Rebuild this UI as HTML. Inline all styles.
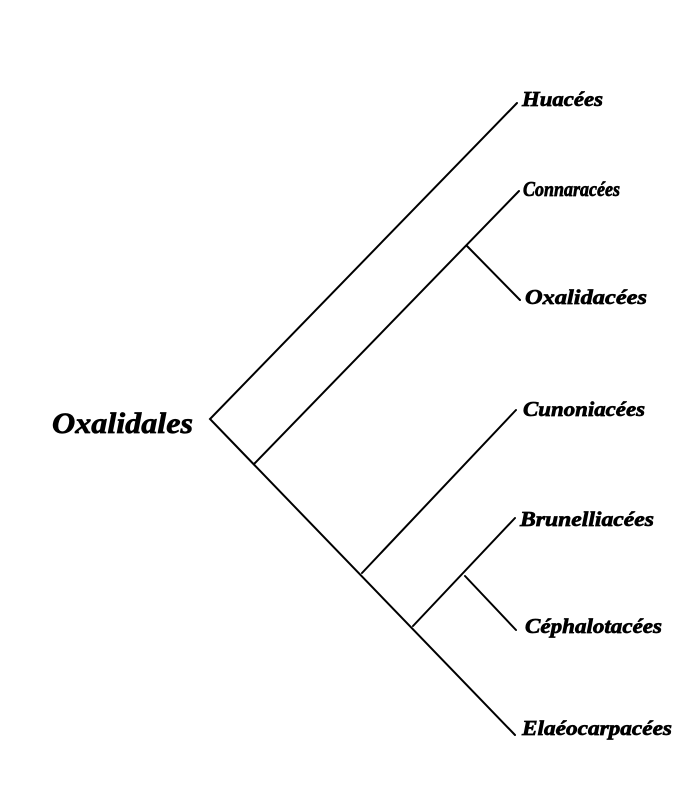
<!DOCTYPE html>
<html><head><meta charset="utf-8"><style>html,body{margin:0;padding:0;background:#fff}svg{display:block}</style></head>
<body>
<svg width="700" height="800" viewBox="0 0 700 800" xmlns="http://www.w3.org/2000/svg">
<g stroke="#000" stroke-width="2" fill="none" stroke-linecap="round">
<polyline points="517,103 210,419 515,735"/>
<line x1="254" y1="464" x2="519" y2="191"/>
<line x1="467" y1="246" x2="520" y2="300"/>
<line x1="362" y1="573" x2="516" y2="410"/>
<line x1="413" y1="626" x2="515" y2="518"/>
<line x1="465" y1="576" x2="516" y2="630"/>
</g>
<g font-family="Liberation Serif, serif" font-weight="bold" font-style="italic" fill="#000" stroke="#000" stroke-width="0.7">
<text x="52" y="433" font-size="30" textLength="141" lengthAdjust="spacingAndGlyphs">Oxalidales</text>
<g font-size="21">
<text x="522" y="106" textLength="81" lengthAdjust="spacingAndGlyphs">Huacées</text>
<text x="523" y="196" textLength="97" lengthAdjust="spacingAndGlyphs">Connaracées</text>
<text x="525" y="304" textLength="122" lengthAdjust="spacingAndGlyphs">Oxalidacées</text>
<text x="523" y="416" textLength="122" lengthAdjust="spacingAndGlyphs">Cunoniacées</text>
<text x="520" y="526" textLength="134" lengthAdjust="spacingAndGlyphs">Brunelliacées</text>
<text x="525" y="633" textLength="137" lengthAdjust="spacingAndGlyphs">Céphalotacées</text>
<text x="522" y="735" textLength="150" lengthAdjust="spacingAndGlyphs">Elaéocarpacées</text>
</g>
</g>
</svg>
</body></html>
